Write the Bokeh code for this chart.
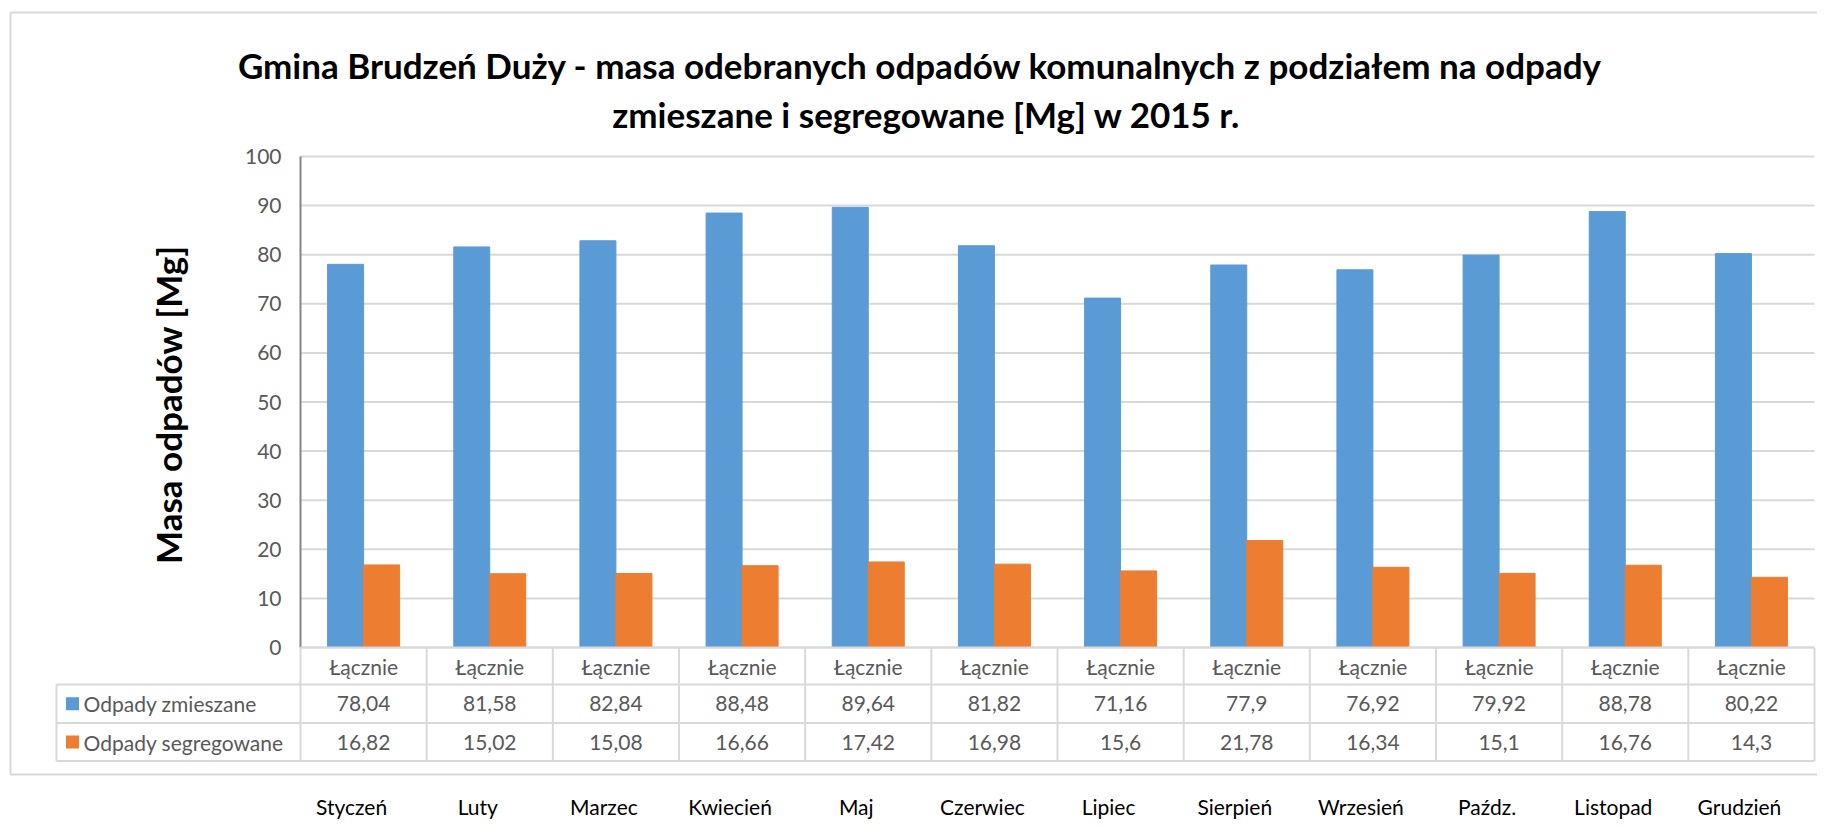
import numpy as np
from bokeh.plotting import figure
from bokeh.models import Range1d, ColumnDataSource
from bokeh.core.properties import value
from bokeh.embed import file_html
from bokeh.resources import INLINE

# ---------------- data ----------------
months = ["Styczeń", "Luty", "Marzec", "Kwiecień", "Maj", "Czerwiec",
          "Lipiec", "Sierpień", "Wrzesień", "Paźdz.", "Listopad", "Grudzień"]
header = ["Łącznie"] * 12
series_names = ["Odpady zmieszane", "Odpady segregowane"]
zmieszane = [78.04, 81.58, 82.84, 88.48, 89.64, 81.82, 71.16, 77.9, 76.92, 79.92, 88.78, 80.22]
segregowane = [16.82, 15.02, 15.08, 16.66, 17.42, 16.98, 15.6, 21.78, 16.34, 15.1, 16.76, 14.3]
y_ticks = [0, 10, 20, 30, 40, 50, 60, 70, 80, 90, 100]
title_lines = ["Gmina Brudzeń Duży  - masa odebranych odpadów komunalnych z podziałem na odpady",
               "zmieszane i segregowane [Mg] w 2015 r."]
y_title = "Masa odpadów [Mg]"

# ---------------- layout (picture pixels) ----------------
W, H = 1817, 820
AX_L, AX_R = 300.0, 1814.0       # plot area x extent
Y0_PX, PX_PER_UNIT = 647.0, 4.91  # y=0 position and scale
n = len(months)
CAT_PX = (AX_R - AX_L) / n


def X(px):
    return (px - AX_L) / CAT_PX


def Y(py):
    return (Y0_PX - py) / PX_PER_UNIT


p = figure(width=W, height=H, output_backend="svg", toolbar_location=None,
           x_range=Range1d(X(0), X(W)), y_range=Range1d(Y(H), Y(0)),
           min_border=0, min_border_left=0, min_border_right=0,
           min_border_top=0, min_border_bottom=0)
p.axis.visible = False
p.grid.visible = False
p.outline_line_color = None
p.background_fill_color = "white"

FONT = value("Lato")
GRID = "#D9D9D9"
TXT = "#595959"
BLUE = "#5B9BD5"
ORANGE = "#ED7D31"

# outer chart border
p.quad(left=[X(10)], right=[X(1840)], top=[Y(12)], bottom=[Y(774)],
       fill_color=None, line_color=GRID, line_width=2)

# gridlines
p.segment(x0=[0] * len(y_ticks), x1=[n] * len(y_ticks), y0=y_ticks, y1=y_ticks,
          line_color=GRID, line_width=2)

# bars
idx = np.arange(n)
bw = 36.0 / CAT_PX
p.vbar(x=idx + 0.5 - bw / 2, top=zmieszane, bottom=0, width=bw,
       fill_color=BLUE, line_color=BLUE, line_width=1)
p.vbar(x=idx + 0.5 + bw / 2, top=segregowane, bottom=0, width=bw,
       fill_color=ORANGE, line_color=ORANGE, line_width=1)

# y axis line + tick labels
p.segment(x0=[0], x1=[0], y0=[0], y1=[max(y_ticks)], line_color="#868686", line_width=2)
p.text(x=[X(281)] * len(y_ticks), y=y_ticks, text=[str(t) for t in y_ticks],
       text_align="right", text_baseline="middle", text_font=FONT,
       text_font_size="21px", text_color=TXT)

# y axis title
p.text(x=[X(167)], y=[Y(404)], text=[y_title], angle=np.pi / 2,
       text_align="center", text_baseline="middle", text_font=FONT,
       text_font_style="bold", text_font_size="35px", text_color="black")

# chart title
p.text(x=[X(924), X(926)], y=[Y(64), Y(113)], text=title_lines,
       text_align="center", text_baseline="alphabetic", text_font=FONT,
       text_font_style="bold", text_font_size="35px", text_color="black")

# ---------------- data table ----------------
ROW = [647.0, 684.0, 722.5, 760.5]
LEG_L = 56.0
# horizontal lines
p.segment(x0=[0, X(LEG_L), X(LEG_L), X(LEG_L)], x1=[n] * 4,
          y0=[Y(r) for r in ROW], y1=[Y(r) for r in ROW],
          line_color=GRID, line_width=2)
# vertical lines
p.segment(x0=list(range(n + 1)), x1=list(range(n + 1)),
          y0=[Y(ROW[0])] * (n + 1), y1=[Y(ROW[3])] * (n + 1),
          line_color=GRID, line_width=2)
p.segment(x0=[X(LEG_L)], x1=[X(LEG_L)], y0=[Y(ROW[1])], y1=[Y(ROW[3])],
          line_color=GRID, line_width=2)

centers = idx + 0.5
row_mid = [Y((ROW[i] + ROW[i + 1]) / 2) for i in range(3)]


def fmt(v):
    s = ("%.2f" % v).rstrip("0").rstrip(".")
    return s.replace(".", ",")


tsrc = ColumnDataSource(dict(
    x=list(centers) * 3,
    y=[row_mid[0]] * n + [row_mid[1]] * n + [row_mid[2]] * n,
    t=header + [fmt(v) for v in zmieszane] + [fmt(v) for v in segregowane]))
p.text(x="x", y="y", text="t", source=tsrc, text_align="center",
       text_baseline="middle", text_font=FONT, text_font_size="21px", text_color=TXT)

# legend keys in table
p.rect(x=[X(72), X(72)], y=[row_mid[1], row_mid[2]], width=13, height=13,
       width_units="screen", height_units="screen",
       fill_color=[BLUE, ORANGE], line_color=None)
p.text(x=[X(83), X(83)], y=[row_mid[1], row_mid[2]], text=series_names,
       text_align="left", text_baseline="middle", text_font=FONT,
       text_font_size="21px", text_color=TXT)

# month labels below the chart
p.text(x=centers, y=[Y(806)] * n, text=months, x_offset=-12,
       text_align="center", text_baseline="middle", text_font=FONT,
       text_font_size="21px", text_color="black")

open("out.html", "w").write(file_html(p, INLINE))
